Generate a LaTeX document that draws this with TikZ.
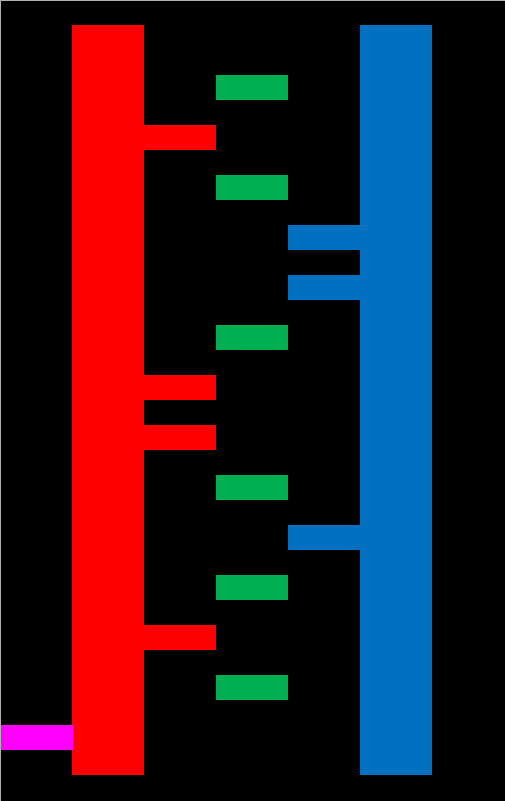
\documentclass[tikz,border=0pt]{standalone}
\definecolor{barred}{RGB}{255,0,0}
\definecolor{barblue}{RGB}{0,112,192}
\definecolor{bargreen}{RGB}{0,176,80}
\definecolor{barmag}{RGB}{255,0,255}
\begin{document}
\begin{tikzpicture}[x=1pt,y=-1pt,
  redbar/.style={fill=barred},
  bluebar/.style={fill=barblue},
  greenbar/.style={fill=bargreen},
  magbar/.style={fill=barmag}]
\useasboundingbox (0,0) rectangle (505,801);
\fill[black] (0,0) rectangle (505,801);
\draw[gray!60,line width=0.8pt] (0.4,801) -- (0.4,0.4) -- (505,0.4);
% main bars
\fill[redbar] (72,25) rectangle (144,775);
\fill[bluebar] (360,25) rectangle (432,775);
% red stubs
\foreach \y in {125,375,425,625} \fill[redbar] (143,\y) rectangle (216,\y+25);
% blue stubs
\foreach \y in {225,275,525} \fill[bluebar] (288,\y) rectangle (361,\y+25);
% green blocks
\foreach \y in {75,175,325,475,575,675} \fill[greenbar] (216,\y) rectangle (288,\y+25);
% magenta
\fill[magbar] (1,725) rectangle (73,750);
\end{tikzpicture}
\end{document}
